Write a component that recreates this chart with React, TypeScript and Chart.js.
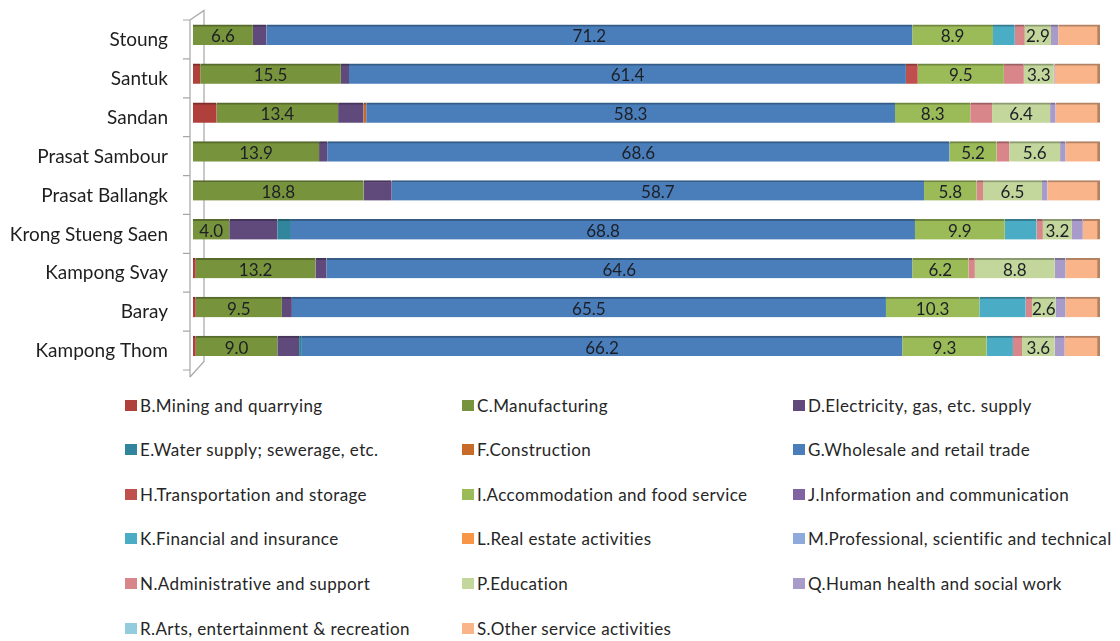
import React, { useEffect, useRef } from "react";
import { Chart, registerables } from "chart.js";

Chart.register(...registerables);

// ---------- DATA ----------
const districts = [
  "Stoung",
  "Santuk",
  "Sandan",
  "Prasat Sambour",
  "Prasat Ballangk",
  "Krong Stueng Saen",
  "Kampong Svay",
  "Baray",
  "Kampong Thom",
];

const seriesNames = [
  "B.Mining and quarrying",
  "C.Manufacturing",
  "D.Electricity, gas, etc. supply",
  "E.Water supply; sewerage, etc.",
  "F.Construction",
  "G.Wholesale and retail trade",
  "H.Transportation and storage",
  "I.Accommodation and food service",
  "J.Information and communication",
  "K.Financial and insurance",
  "L.Real estate activities",
  "M.Professional, scientific and technical",
  "N.Administrative and support",
  "P.Education",
  "Q.Human health and social work",
  "R.Arts, entertainment & recreation",
  "S.Other service activities",
];

const seriesColors = [
  "#B0403C",
  "#77933C",
  "#604A7B",
  "#31859C",
  "#C86A28",
  "#4A7EBB",
  "#C0504D",
  "#9BBB59",
  "#8064A2",
  "#4BACC6",
  "#F79646",
  "#8EA9DB",
  "#D9868A",
  "#C3D69B",
  "#A99BC9",
  "#93CDDD",
  "#F9B589",
];

const mining = [0, 0.8, 2.6, 0, 0, 0, 0.3, 0.3, 0.3];
const manufacturing = [6.6, 15.5, 13.4, 13.9, 18.8, 4.0, 13.2, 9.5, 9.0];
const electricity = [1.5, 0.9, 2.8, 0.9, 3.1, 5.3, 1.2, 1.1, 2.4];
const water = [0, 0, 0, 0, 0, 1.5, 0, 0, 0.3];
const construction = [0, 0, 0.3, 0, 0, 0, 0, 0, 0];
const wholesale = [71.2, 61.4, 58.3, 68.6, 58.7, 68.8, 64.6, 65.5, 66.2];
const transport = [0, 1.3, 0, 0, 0, 0, 0, 0, 0];
const accommodation = [8.9, 9.5, 8.3, 5.2, 5.8, 9.9, 6.2, 10.3, 9.3];
const information = [0, 0, 0, 0, 0, 0, 0, 0, 0];
const financial = [2.4, 0, 0, 0, 0, 3.5, 0, 5.1, 2.9];
const realEstate = [0, 0, 0, 0, 0, 0, 0, 0, 0];
const professional = [0, 0, 0, 0, 0, 0, 0, 0, 0];
const administrative = [1.1, 2.2, 2.4, 1.4, 0.7, 0.7, 0.7, 0.7, 1.0];
const education = [2.9, 3.3, 6.4, 5.6, 6.5, 3.2, 8.8, 2.6, 3.6];
const health = [0.8, 0.1, 0.6, 0.6, 0.6, 1.2, 1.2, 1.1, 1.1];
const arts = [0, 0, 0, 0, 0, 0, 0, 0, 0];
const otherServices = [4.6, 5.0, 4.9, 3.8, 5.8, 1.9, 3.8, 3.8, 3.9];

const seriesValues = [
  mining,
  manufacturing,
  electricity,
  water,
  construction,
  wholesale,
  transport,
  accommodation,
  information,
  financial,
  realEstate,
  professional,
  administrative,
  education,
  health,
  arts,
  otherServices,
];

// series whose values are printed inside the bars
const labelledSeries = [1, 5, 7, 13];

// ---------- STYLE HELPERS ----------
function darken(hex: string, f: number): string {
  const n = parseInt(hex.slice(1), 16);
  const r = Math.round(((n >> 16) & 255) * f);
  const g = Math.round(((n >> 8) & 255) * f);
  const b = Math.round((n & 255) * f);
  return `rgb(${r},${g},${b})`;
}

const FONT = "Lato, 'Open Sans', sans-serif";

const wallPlugin = {
  id: "wall",
  beforeDatasetsDraw(chart: any) {
    const { ctx, chartArea } = chart;
    const off = 4.5;
    ctx.save();
    ctx.strokeStyle = "#a6a6a6";
    ctx.lineWidth = 1.2;
    const fx = chartArea.left - 3;
    const bx = chartArea.left + 11;
    ctx.beginPath();
    ctx.moveTo(fx, chartArea.top + off);
    ctx.lineTo(bx, chartArea.top - 5);
    ctx.lineTo(bx, chartArea.bottom - 4);
    ctx.lineTo(fx, chartArea.bottom + off + 7);
    ctx.stroke();
    ctx.restore();
  },
  afterDraw(chart: any) {
    const { ctx, chartArea } = chart;
    const yScale = chart.scales.y;
    const off = 4.5;
    const fx = chartArea.left - 3;
    ctx.save();
    ctx.strokeStyle = "#a6a6a6";
    ctx.lineWidth = 1.2;
    ctx.beginPath();
    ctx.moveTo(fx, chartArea.top + off);
    ctx.lineTo(fx, chartArea.bottom + off + 7);
    const n = yScale.ticks.length;
    const step = (chartArea.bottom - chartArea.top) / n;
    for (let i = 0; i <= n; i++) {
      const y = chartArea.top + step * i + off;
      ctx.moveTo(fx - 7, y);
      ctx.lineTo(fx, y);
    }
    ctx.stroke();
    ctx.restore();
  },
};

const valueLabelPlugin = {
  id: "valueLabels",
  afterDatasetsDraw(chart: any) {
    const { ctx } = chart;
    ctx.save();
    ctx.font = `17px ${FONT}`;
    ctx.fillStyle = "#1c1f26";
    ctx.textAlign = "center";
    ctx.textBaseline = "middle";
    labelledSeries.forEach((di) => {
      const meta = chart.getDatasetMeta(di);
      meta.data.forEach((bar: any, i: number) => {
        const v = seriesValues[di][i];
        if (!v) return;
        const cx = (bar.x + bar.base) / 2;
        ctx.fillText(v.toFixed(1), cx, bar.y + 2);
      });
    });
    ctx.restore();
  },
};

const legendCols = [125, 462, 793];
const legendTop = 405;
const legendRowGap = 44.6;

export default function App() {
  const canvasRef = useRef<HTMLCanvasElement | null>(null);

  useEffect(() => {
    if (!canvasRef.current) return;
    const chart = new Chart(canvasRef.current, {
      type: "bar",
      data: {
        labels: districts,
        datasets: seriesNames.map((name, k) => ({
          label: name,
          data: seriesValues[k],
          backgroundColor: seriesColors[k],
          borderColor: darken(seriesColors[k], 0.72),
          borderWidth:
            k === seriesNames.length - 1
              ? { top: 2, right: 3, bottom: 0, left: 0 }
              : { top: 2, right: 0, bottom: 0, left: 0 },
          borderSkipped: false,
          barThickness: 20,
        })),
      },
      plugins: [wallPlugin, valueLabelPlugin],
      options: {
        indexAxis: "y",
        animation: false,
        responsive: false,
        maintainAspectRatio: false,
        layout: { padding: { top: 15.5, bottom: 24.5, right: 20, left: 0 } },
        plugins: {
          legend: { display: false },
          tooltip: { enabled: false },
          title: { display: false },
        },
        scales: {
          x: {
            stacked: true,
            min: 0,
            max: 100,
            display: false,
          },
          y: {
            stacked: true,
            grid: { display: false, drawTicks: false },
            border: { display: false },
            afterFit: (scale: any) => {
              scale.width = 193;
              scale.paddingTop = 0;
              scale.paddingBottom = 0;
            },
            ticks: {
              padding: 25,
              labelOffset: 5,
              color: "#1e1e1e",
              font: { family: FONT, size: 19 },
            },
          },
        },
      },
    } as any);
    return () => chart.destroy();
  }, []);

  return (
    <div
      style={{
        position: "absolute",
        left: 0,
        top: 0,
        width: 1120,
        height: 641,
        background: "#ffffff",
        overflow: "hidden",
      }}
    >
      <canvas
        ref={canvasRef}
        width={1120}
        height={390}
        style={{ position: "absolute", left: 0, top: 0, width: 1120, height: 390 }}
      />
      {seriesNames.map((name, k) => (
        <div
          key={name}
          style={{
            position: "absolute",
            left: legendCols[k % 3],
            top: legendTop + Math.floor(k / 3) * legendRowGap - 11,
            height: 22,
            display: "flex",
            alignItems: "center",
            fontFamily: FONT,
            fontSize: 17,
            letterSpacing: 0.4,
            color: "#262626",
            whiteSpace: "nowrap",
          }}
        >
          <span
            style={{
              display: "inline-block",
              width: 12,
              height: 11,
              background: seriesColors[k],
              marginRight: 3,
            }}
          />
          {name}
        </div>
      ))}
    </div>
  );
}
